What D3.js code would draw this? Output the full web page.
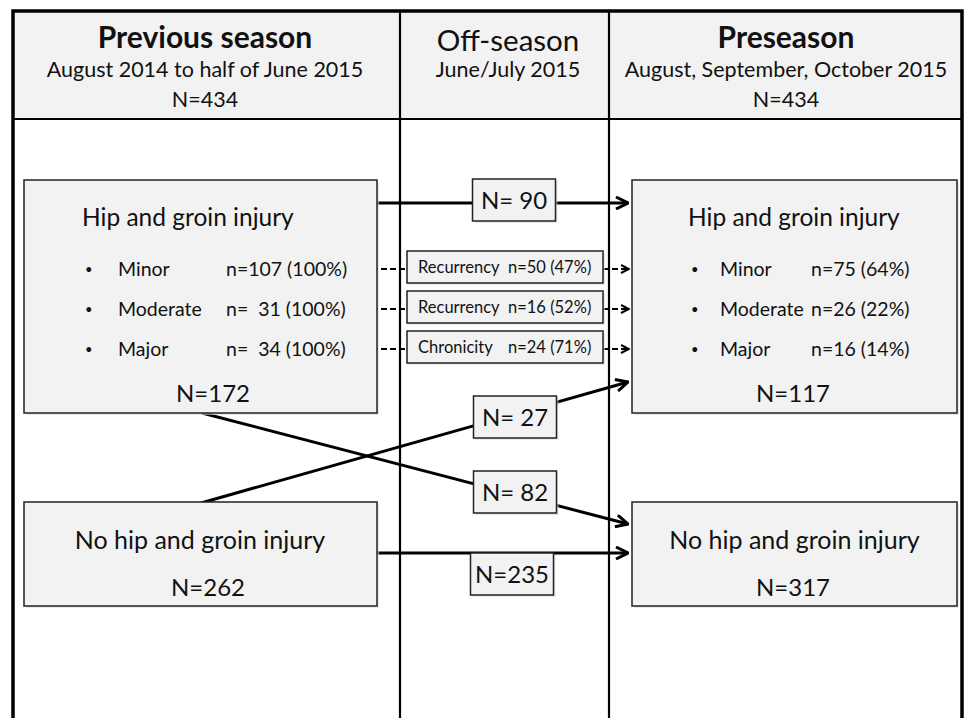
<!DOCTYPE html>
<html>
<head>
<meta charset="utf-8">
<script src="https://cdn.jsdelivr.net/npm/d3@7"></script>
<style>
  body { margin: 0; background: #fff; }
  svg text { font-family: Lato, "Open Sans", sans-serif; fill: #111; white-space: pre; }
</style>
</head>
<body>
<div id="chart"></div>
<script>
// periods (columns)
const periodTitles = ["Previous season", "Off-season", "Preseason"];
const periodBold = [true, false, true];
const periodDates = ["August 2014 to half of June 2015", "June/July 2015", "August, September, October 2015"];
const periodN = ["N=434", "", "N=434"];

// groups
const groups = ["Hip and groin injury", "No hip and groin injury"];
const prevTotals = [172, 262];
const preTotals = [117, 317];

// severity detail
const severities = ["Minor", "Moderate", "Major"];
const prevCounts = [107, 31, 34];
const prevPct = [100, 100, 100];
const preCounts = [75, 26, 16];
const prePct = [64, 22, 14];

// carry-over through off-season
const carryLabels = ["Recurrency", "Recurrency", "Chronicity"];
const carryCounts = [50, 16, 24];
const carryPct = [47, 52, 71];

// flows between groups: from previous-season group -> preseason group
const flowFrom = [0, 0, 1, 1];
const flowTo = [0, 1, 0, 1];
const flowN = ["N= 90", "N= 82", "N= 27", "N=235"];

const width = 966, height = 718;
const svg = d3.select("#chart").append("svg").attr("width", width).attr("height", height);

// layout scales
const colEdges = [13, 400, 609, 962];
const colMid = d3.scaleOrdinal().domain(periodTitles).range([205, 508, 786]);
const boxX = d3.scaleOrdinal().domain(["prev", "pre"]).range([[24, 377], [632, 957]]);
const groupY = d3.scaleOrdinal().domain(groups).range([[180, 413], [502, 606]]);
const rowY = d3.scalePoint().domain(severities).range([269, 349]);

// defs: arrowheads
const defs = svg.append("defs");
defs.append("marker").attr("id", "arr").attr("viewBox", "0 0 14 14")
  .attr("refX", 13).attr("refY", 7).attr("markerWidth", 14).attr("markerHeight", 14)
  .attr("markerUnits", "userSpaceOnUse").attr("orient", "auto")
  .append("path").attr("d", "M1,1 L13,7 L1,13").attr("fill", "none")
  .attr("stroke", "#000").attr("stroke-width", 3);
defs.append("marker").attr("id", "arrs").attr("viewBox", "0 0 10 10")
  .attr("refX", 9).attr("refY", 5).attr("markerWidth", 10).attr("markerHeight", 10)
  .attr("markerUnits", "userSpaceOnUse").attr("orient", "auto")
  .append("path").attr("d", "M1,1 L9,5 L1,9").attr("fill", "none")
  .attr("stroke", "#000").attr("stroke-width", 2);

// header band
svg.append("rect").attr("x", colEdges[0]).attr("y", 11).attr("width", colEdges[3] - colEdges[0])
  .attr("height", 108).attr("fill", "#f2f2f2");

// frame
const frame = svg.append("g").attr("stroke", "#000").attr("fill", "none");
frame.append("path").attr("d", `M${colEdges[0]},${height} V11 H${colEdges[3]} V${height}`).attr("stroke-width", 3.5);
frame.selectAll("line.div").data([colEdges[1], colEdges[2]]).enter().append("line")
  .attr("x1", d => d).attr("x2", d => d).attr("y1", 11).attr("y2", height).attr("stroke-width", 2.2);
frame.append("line").attr("x1", colEdges[0]).attr("x2", colEdges[3]).attr("y1", 119).attr("y2", 119).attr("stroke-width", 2.2);

// header text
const head = svg.append("g").attr("text-anchor", "middle");
periodTitles.forEach((t, i) => {
  head.append("text").attr("x", colMid(t)).attr("y", periodBold[i] ? 48 : 51)
    .attr("font-size", periodBold[i] ? 30 : 29.5).attr("font-weight", periodBold[i] ? 700 : 400).text(t);
  head.append("text").attr("x", colMid(t)).attr("y", 77).attr("font-size", 21.5).text(periodDates[i]);
  if (periodN[i]) head.append("text").attr("x", colMid(t)).attr("y", 107).attr("font-size", 21.5).text(periodN[i]);
});

// flows (behind boxes)
const anchorsFrom = [
  [[377, 203], [202, 413]],   // from injury box: to injury, to no injury
  [[201, 503], [377, 553]]    // from no-injury box
];
const anchorsTo = [
  [[628, 203], [628, 524]],
  [[628, 382], [628, 553]]
];
const labelCenter = [[514, 200], [515, 492], [515, 417], [512, 574]];
const flows = flowN.map((n, i) => ({
  n, a: anchorsFrom[flowFrom[i]][flowTo[i]], b: anchorsTo[flowFrom[i]][flowTo[i]], c: labelCenter[i]
}));
svg.append("g").selectAll("line").data(flows).enter().append("line")
  .attr("x1", d => d.a[0]).attr("y1", d => d.a[1]).attr("x2", d => d.b[0]).attr("y2", d => d.b[1])
  .attr("stroke", "#000").attr("stroke-width", 3).attr("marker-end", "url(#arr)");

// dashed carry-over connectors
const dash = svg.append("g").attr("stroke", "#000").attr("stroke-width", 1.8).attr("stroke-dasharray", "6,3");
severities.forEach(s => {
  dash.append("line").attr("x1", 354).attr("x2", 407).attr("y1", rowY(s)).attr("y2", rowY(s));
  dash.append("line").attr("x1", 603).attr("x2", 629).attr("y1", rowY(s)).attr("y2", rowY(s))
    .attr("marker-end", "url(#arrs)");
});

// group boxes
function box(g, x0, y0, x1, y1) {
  g.append("rect").attr("x", x0 + 2).attr("y", y0 + 2).attr("width", x1 - x0).attr("height", y1 - y0)
    .attr("fill", "#d9d9d9").attr("opacity", 0.6);
  g.append("rect").attr("x", x0).attr("y", y0).attr("width", x1 - x0).attr("height", y1 - y0)
    .attr("fill", "#f2f2f2").attr("stroke", "#222").attr("stroke-width", 1.5);
}
const boxes = svg.append("g");
["prev", "pre"].forEach((side, si) => {
  const [x0, x1] = boxX(side);
  const totals = si === 0 ? prevTotals : preTotals;
  groups.forEach((grp, gi) => {
    const [y0, y1] = groupY(grp);
    box(boxes, x0, y0, x1, y1);
    const cx = (x0 + x1) / 2;
    if (gi === 0) {
      boxes.append("text").attr("x", si === 0 ? 82 : 688).attr("y", 226).attr("font-size", 24.5).text(grp);
      severities.forEach((s, k) => {
        const y = rowY(s) + 7;
        boxes.append("text").attr("x", si === 0 ? 85 : 691).attr("y", y - 2).attr("font-size", 13).text("•");
        boxes.append("text").attr("x", si === 0 ? 118 : 720).attr("y", y).attr("font-size", 19.5).text(s);
        const val = si === 0
          ? "n=" + String(prevCounts[k]).padStart(3, " ").replace(/^ /, "  ") + " (" + prevPct[k] + "%)"
          : "n=" + preCounts[k] + " (" + prePct[k] + "%)";
        boxes.append("text").attr("x", si === 0 ? 226 : 811).attr("y", y).attr("font-size", 19.5).text(val);
      });
      boxes.append("text").attr("x", si === 0 ? 213 : 793).attr("y", 402).attr("text-anchor", "middle")
        .attr("font-size", 24).text("N=" + totals[gi]);
    } else {
      boxes.append("text").attr("x", si === 0 ? 200 : cx).attr("y", 549).attr("text-anchor", "middle")
        .attr("font-size", 25).text(grp);
      boxes.append("text").attr("x", si === 0 ? 208 : 793).attr("y", 596).attr("text-anchor", "middle")
        .attr("font-size", 24).text("N=" + totals[gi]);
    }
  });
});

// carry-over boxes
const carry = svg.append("g");
severities.forEach((s, k) => {
  const y = rowY(s) - 2;
  box(carry, 407, y - 16, 603, y + 16);
  carry.append("text").attr("x", 418).attr("y", y + 6).attr("font-size", 16.5).text(carryLabels[k]);
  carry.append("text").attr("x", 508).attr("y", y + 6).attr("font-size", 16.5)
    .text("n=" + carryCounts[k] + " (" + carryPct[k] + "%)");
});

// flow labels
const lab = svg.append("g").selectAll("g").data(flows).enter().append("g");
lab.each(function(d) {
  const g = d3.select(this);
  const w = d.n.length > 5 ? 87 : 83;
  box(g, d.c[0] - w / 2, d.c[1] - 21, d.c[0] + w / 2, d.c[1] + 21);
  g.append("text").attr("x", d.c[0]).attr("y", d.c[1] + 8.5).attr("text-anchor", "middle")
    .attr("font-size", 24).text(d.n);
});
</script>
</body>
</html>
